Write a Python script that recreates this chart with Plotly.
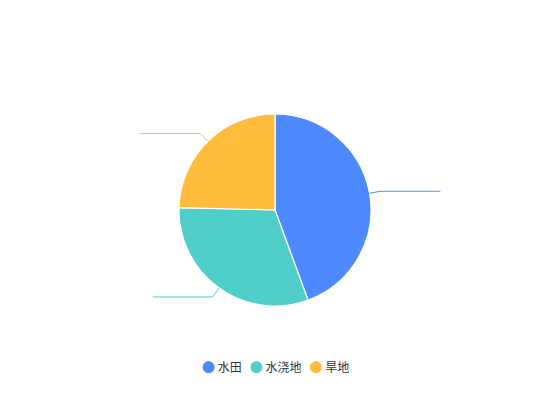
import math
import plotly.graph_objects as go

categories = ["水田", "水浇地", "旱地"]
values = [44.4, 31.0, 24.6]
colors = ["#4E8AFF", "#50CECA", "#FFBB3A"]

OFF = 8  # browser body margin
W, H = 550 - 2 * OFF, 420 - 2 * OFF
cx, cy, R = 275 - OFF, 210 - OFF, 96

fig = go.Figure()
fig.add_trace(go.Pie(
    labels=categories, values=values, sort=False, direction="clockwise",
    rotation=0, textinfo="none", hoverinfo="label+value+percent",
    marker=dict(colors=colors, line=dict(color="#ffffff", width=1.2)),
    domain=dict(x=[(cx - R) / W, (cx + R) / W], y=[1 - (cy + R) / H, 1 - (cy - R) / H]),
    showlegend=False,
))

# leader lines computed from slice mid-angles
shapes = []
total = sum(values)
acc = 0.0
for v, c in zip(values, colors):
    mid = (acc + v / 2) / total * 2 * math.pi
    acc += v
    sx, sy = cx + R * math.sin(mid), cy - R * math.cos(mid)
    ex, ey = cx + (R + 11) * math.sin(mid), cy - (R + 11) * math.cos(mid)
    hx = ex + (60 if math.sin(mid) >= 0 else -60)
    path = f"M {sx/W} {1-sy/H} L {ex/W} {1-ey/H} L {hx/W} {1-ey/H}"
    shapes.append(dict(type="path", xref="paper", yref="paper", path=path,
                       line=dict(color=c, width=1)))

# legend as annotation
parts = []
for cat, c in zip(categories, colors):
    parts.append(f"<span style='color:{c};font-size:13px'>●</span> {cat}")
legend_text = "   ".join(parts)

fig.update_layout(
    width=W, height=H, margin=dict(l=0, r=0, t=0, b=0),
    paper_bgcolor="#ffffff", plot_bgcolor="#ffffff",
    shapes=shapes,
    annotations=[dict(text=legend_text, x=(275 - OFF) / W, y=1 - (366 - OFF) / H,
                      xref="paper", yref="paper",
                      showarrow=False, xanchor="center", yanchor="middle",
                      font=dict(family="Noto Sans CJK SC", size=12, color="#333333"))],
)
fig.write_html("out.html")
